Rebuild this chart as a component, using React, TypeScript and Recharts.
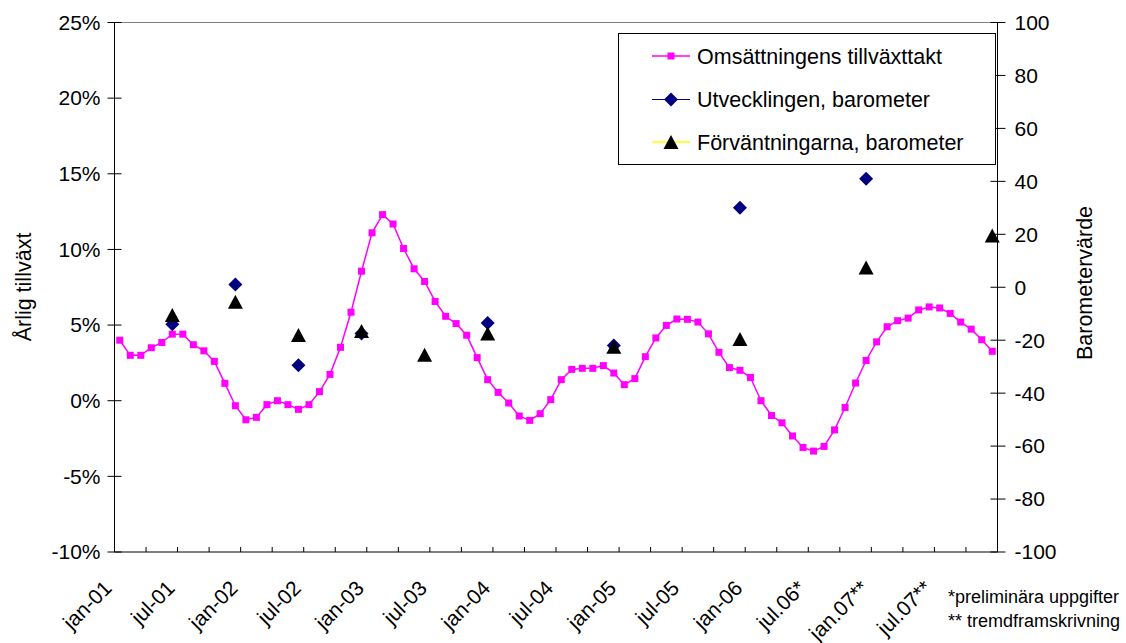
import React from 'react';
import { ComposedChart, Line, XAxis, YAxis, ReferenceLine } from 'recharts';

// Omsättningens tillväxttakt (% per month, jan-01 .. dec-07)
const omsValues = [
  4.0, 3.0, 3.0, 3.5, 3.85, 4.4, 4.4, 3.7, 3.3, 2.6, 1.15, -0.33,
  -1.26, -1.1, -0.26, 0.0, -0.26, -0.57, -0.26, 0.6, 1.74, 3.53, 5.85, 8.56,
  11.1, 12.3, 11.68, 10.06, 8.72, 7.88, 6.56, 5.58, 5.1, 4.33, 2.85, 1.39,
  0.55, -0.15, -1.01, -1.3, -0.86, 0.07, 1.39, 2.07, 2.14, 2.14, 2.32, 1.83,
  1.06, 1.46, 2.91, 4.15, 4.98, 5.4, 5.38, 5.2, 4.42, 3.2, 2.19, 2.01,
  1.54, 0.0, -0.98, -1.46, -2.33, -3.09, -3.33, -3.02, -1.93, -0.45, 1.17, 2.66,
  3.89, 4.89, 5.29, 5.46, 6.0, 6.2, 6.13, 5.77, 5.2, 4.73, 4.03, 3.27,
];

// Utvecklingen, barometer (month index, value)
const utvMonths = [5, 11, 17, 23, 35, 47, 59, 71];
const utvValues = [-14, 1, -29.5, -17.5, -13.5, -22, 30, 41];

// Förväntningarna, barometer (month index, value)
const forvMonths = [5, 11, 17, 23, 29, 35, 47, 59, 71, 83];
const forvValues = [-10.5, -5.5, -18, -16.5, -25.5, -17.5, -22.5, -19.5, 7.5, 19.5];

const xTickLabels = [
  'jan-01', 'jul-01', 'jan-02', 'jul-02', 'jan-03', 'jul-03', 'jan-04',
  'jul-04', 'jan-05', 'jul-05', 'jan-06', 'jul.06*', 'jan.07**', 'jul.07**',
];
const xTickValues = [0, 3, 6, 9, 12, 15, 18, 21, 24, 27, 30, 33, 36, 39, 42, 45, 48, 51, 54, 57, 60, 63, 66, 69, 72, 75, 78, 81, 84];
const leftTicks = [-10, -5, 0, 5, 10, 15, 20, 25];
const rightTicks = [-100, -80, -60, -40, -20, 0, 20, 40, 60, 80, 100];

const seriesNames = ['Omsättningens tillväxttakt', 'Utvecklingen, barometer', 'Förväntningarna, barometer'];

const data = omsValues.map((v, i) => {
  const ui = utvMonths.indexOf(i);
  const fi = forvMonths.indexOf(i);
  return {
    m: i + 0.5,
    oms: v,
    utv: ui >= 0 ? utvValues[ui] : null,
    forv: fi >= 0 ? forvValues[fi] : null,
  };
});

const FONT = "'Liberation Sans', Arial, sans-serif";
const PINK = '#FF00FF';
const NAVY = '#000080';

const XTick = (props: any) => {
  const { x, y, payload } = props;
  const v = payload.value;
  const label = v % 6 === 0 ? xTickLabels[v / 6] : undefined;
  const ax = x - 1.5;
  const ay = y + 37.5;
  return (
    <g>
      <line x1={x} x2={x} y1={y} y2={y - 5} stroke="#000" strokeWidth={1} />
      {label && (
        <text x={ax} y={ay} textAnchor="end" fontSize={21} fontFamily={FONT} fill="#000"
          transform={`rotate(-45 ${ax} ${ay})`}>{label}</text>
      )}
    </g>
  );
};

const LeftTick = (props: any) => {
  const { x, y, payload } = props;
  return (
    <g>
      <line x1={x - 7} x2={x + 7} y1={y} y2={y} stroke="#000" strokeWidth={1} />
      <text x={x - 14} y={y} dy="0.35em" textAnchor="end" fontSize={21} fontFamily={FONT} fill="#000">{payload.value}%</text>
    </g>
  );
};

const RightTick = (props: any) => {
  const { x, y, payload } = props;
  return (
    <g>
      <line x1={x - 7} x2={x + 8} y1={y} y2={y} stroke="#000" strokeWidth={1} />
      <text x={x + 17} y={y} dy="0.35em" textAnchor="start" fontSize={21} fontFamily={FONT} fill="#000">{payload.value}</text>
    </g>
  );
};

const SquareDot = (p: any) => {
  const { cx, cy, index } = p;
  if (cx == null || cy == null || p.value == null) return <g key={`s${index}`} />;
  return <rect key={`s${index}`} x={cx - 3.5} y={cy - 3.5} width={7} height={7} fill={PINK} />;
};

const DiamondDot = (p: any) => {
  const { cx, cy, index } = p;
  if (cx == null || cy == null || p.value == null) return <g key={`d${index}`} />;
  return <polygon key={`d${index}`} points={`${cx},${cy - 7} ${cx + 7},${cy} ${cx},${cy + 7} ${cx - 7},${cy}`} fill={NAVY} />;
};

const TriangleDot = (p: any) => {
  const { cx, cy, index } = p;
  if (cx == null || cy == null || p.value == null) return <g key={`t${index}`} />;
  return <polygon key={`t${index}`} points={`${cx},${cy - 7} ${cx + 7.5},${cy + 7} ${cx - 7.5},${cy + 7}`} fill="#000" />;
};

export default function App() {
  return (
    <div style={{ position: 'absolute', left: 0, top: 0, width: 1126, height: 643, background: '#fff', fontFamily: FONT }}>
      <ComposedChart width={1126} height={643} data={data} margin={{ top: 22.5, right: 0, bottom: 0, left: 0 }}>
        <XAxis dataKey="m" type="number" domain={[0, 84]} ticks={xTickValues} interval={0}
          height={91} tickSize={0} tickMargin={0} tickLine={false} tick={<XTick />}
          axisLine={{ stroke: '#000', strokeWidth: 1 }} />
        <YAxis yAxisId="left" orientation="left" domain={[-10, 25]} ticks={leftTicks} interval={0}
          width={114.5} tickSize={0} tickMargin={0} tickLine={false} tick={<LeftTick />}
          axisLine={{ stroke: '#000', strokeWidth: 1 }} allowDataOverflow />
        <YAxis yAxisId="right" orientation="right" domain={[-100, 100]} ticks={rightTicks} interval={0}
          width={128.5} tickSize={0} tickMargin={0} tickLine={false} tick={<RightTick />}
          axisLine={{ stroke: '#000', strokeWidth: 1 }} allowDataOverflow />
        <ReferenceLine yAxisId="left" y={25} stroke="#808080" strokeWidth={1} />
        <Line yAxisId="left" dataKey="oms" name={seriesNames[0]} stroke={PINK} strokeWidth={1.5}
          dot={SquareDot} activeDot={false} isAnimationActive={false} />
        <Line yAxisId="right" dataKey="utv" name={seriesNames[1]} stroke="none"
          dot={DiamondDot} activeDot={false} isAnimationActive={false} />
        <Line yAxisId="right" dataKey="forv" name={seriesNames[2]} stroke="none"
          dot={TriangleDot} activeDot={false} isAnimationActive={false} />
      </ComposedChart>
      <svg width={1126} height={643} style={{ position: 'absolute', left: 0, top: 0, pointerEvents: 'none' }}>
        {/* axis titles */}
        <text x={23} y={287} transform="rotate(-90 23 287)" textAnchor="middle" dy="0.35em" fontSize={21.5} fontFamily={FONT}>Årlig tillväxt</text>
        <text x={1084} y={283} transform="rotate(-90 1084 283)" textAnchor="middle" dy="0.35em" fontSize={21.5} fontFamily={FONT}>Barometervärde</text>
        {/* legend */}
        <rect x={618.5} y={33.5} width={377} height={131} fill="#fff" stroke="#000" strokeWidth={1} />
        <line x1={652} x2={690} y1={56} y2={56} stroke={PINK} strokeWidth={1.5} />
        <rect x={667.5} y={52.5} width={7} height={7} fill={PINK} />
        <text x={697} y={56} dy="0.35em" fontSize={21.5} fontFamily={FONT}>{seriesNames[0]}</text>
        <line x1={652} x2={690} y1={99.5} y2={99.5} stroke={NAVY} strokeWidth={1} />
        <polygon points="671,92.5 678,99.5 671,106.5 664,99.5" fill={NAVY} />
        <text x={697} y={99.5} dy="0.35em" fontSize={21.5} fontFamily={FONT}>{seriesNames[1]}</text>
        <line x1={652} x2={690} y1={142} y2={142} stroke="#FFFF00" strokeWidth={1.5} />
        <polygon points="671,135 678.5,149 663.5,149" fill="#000" />
        <text x={697} y={142} dy="0.35em" fontSize={21.5} fontFamily={FONT}>{seriesNames[2]}</text>
        {/* footnotes */}
        <text x={948} y={603} fontSize={18} fontFamily={FONT}>*preliminära uppgifter</text>
        <text x={948} y={627} fontSize={18} fontFamily={FONT}>** tremdframskrivning</text>
      </svg>
    </div>
  );
}
